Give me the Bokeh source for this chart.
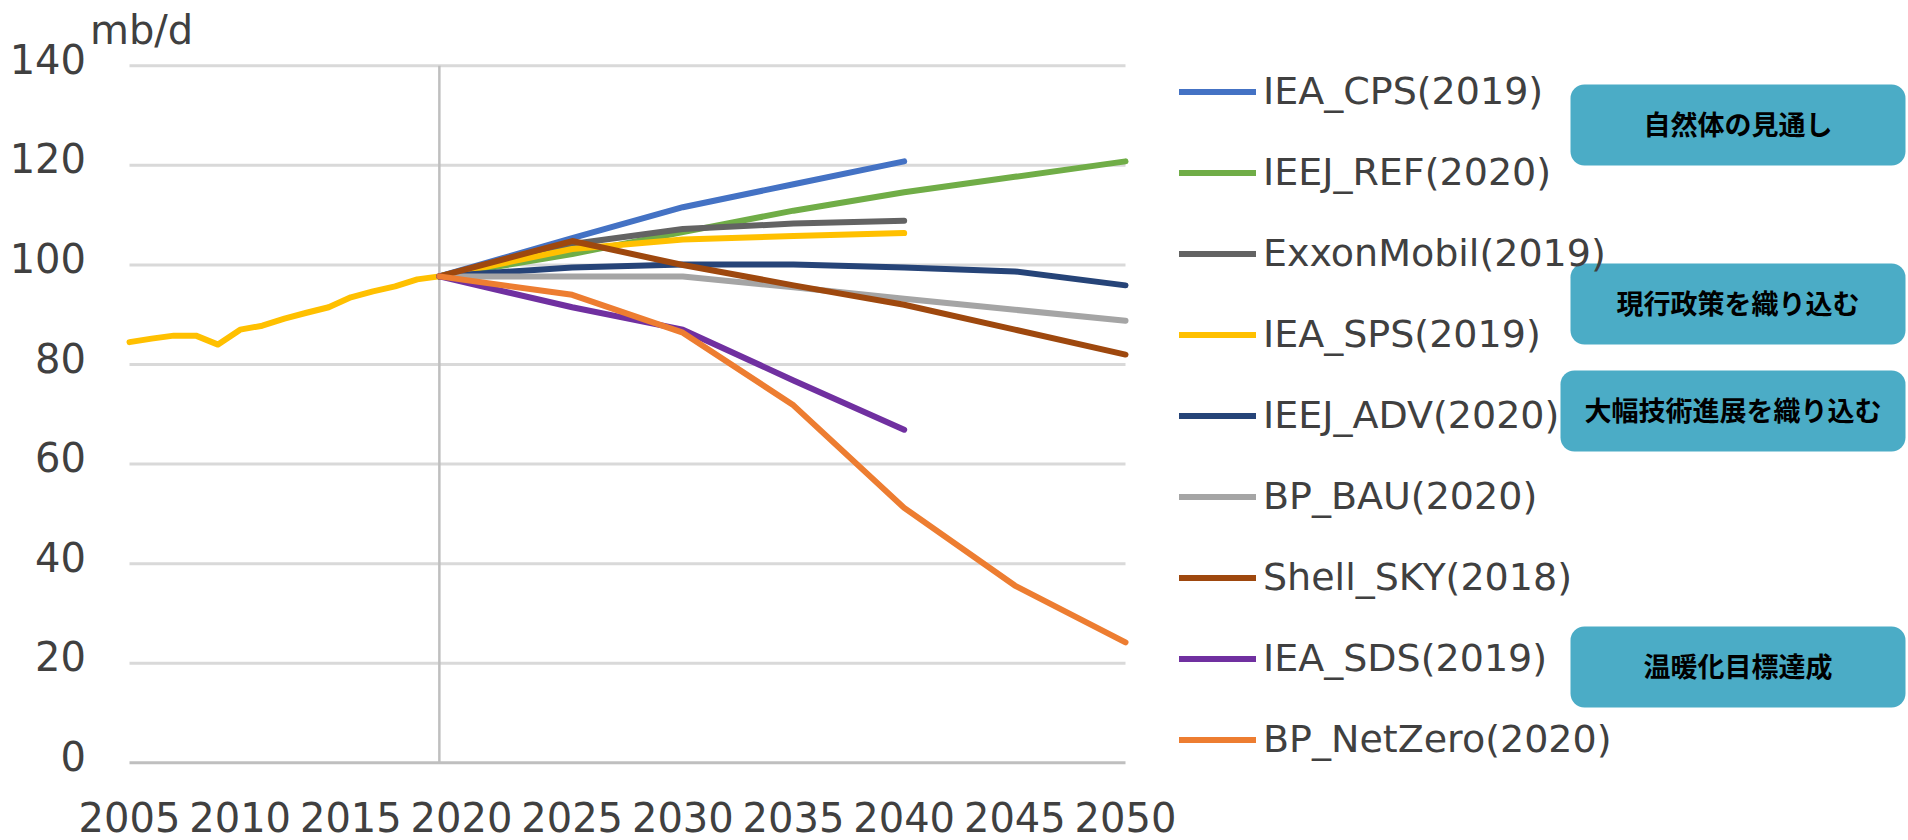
from bokeh.plotting import figure
from bokeh.models import Range1d, Legend, LegendItem, BoxAnnotation, Label
from bokeh.core.properties import value
from bokeh.embed import file_html
from bokeh.resources import INLINE

# ---------------- data ----------------
hist_years = list(range(2005, 2020))
hist_values = [84.5, 85.2, 85.8, 85.8, 84.0, 87.0, 87.8, 89.2, 90.4, 91.5, 93.5, 94.7, 95.7, 97.1, 97.7]

base_year = 2019
years_2040 = [2019, 2025, 2030, 2035, 2040]
years_2050 = [2019, 2025, 2030, 2035, 2040, 2045, 2050]

iea_cps = [97.7, 105.4, 111.6, 116.2, 120.8]
ieej_ref = [97.7, 102.2, 106.6, 110.9, 114.6, 117.7, 120.8]
exxon = [97.7, 104.2, 107.2, 108.3, 108.9]
iea_sps = [97.7, 103.2, 105.1, 105.8, 106.4]
ieej_adv = [97.7, 99.5, 100.1, 100.1, 99.5, 98.7, 95.9]
bp_bau = [97.7, 97.7, 97.7, 95.5, 93.2, 91.0, 88.8]
shell_sky = [97.7, 104.8, 100.0, 95.9, 92.0, 87.0, 82.0]
iea_sds = [97.7, 91.5, 87.0, 76.8, 66.9]
bp_netzero = [97.7, 94.0, 86.4, 71.8, 51.2, 35.6, 24.2]

series_names = ["IEA_CPS(2019)", "IEEJ_REF(2020)", "ExxonMobil(2019)", "IEA_SPS(2019)",
                "IEEJ_ADV(2020)", "BP_BAU(2020)", "Shell_SKY(2018)", "IEA_SDS(2019)",
                "BP_NetZero(2020)"]
series_years = [years_2040, years_2050, years_2040, years_2040, years_2050, years_2050,
                years_2050, years_2040, years_2050]
series_values = [iea_cps, ieej_ref, exxon, iea_sps, ieej_adv, bp_bau, shell_sky, iea_sds, bp_netzero]
series_colors = ["#4472C4", "#70AD47", "#636363", "#FFC000", "#264478", "#A5A5A5",
                 "#9E480E", "#7030A0", "#ED7D31"]

x_ticks = [2005, 2010, 2015, 2020, 2025, 2030, 2035, 2040, 2045, 2050]
y_ticks = [0, 20, 40, 60, 80, 100, 120, 140]
unit_label = "mb/d"

box_texts = ["自然体の見通し", "現行政策を織り込む", "大幅技術進展を織り込む", "温暖化目標達成"]

# ---------------- pixel geometry of the plot area ----------------
W, H = 1908, 840
X0_PX, X1_PX = 129.0, 1125.0     # 2005 .. 2050
Y0_PX, Y1_PX = 762.3, 65.3       # 0 .. 140
PX_PER_YEAR = (X1_PX - X0_PX) / (x_ticks[-1] - x_ticks[0])
PX_PER_UNIT = (Y0_PX - Y1_PX) / (y_ticks[-1] - y_ticks[0])
TEXT_SHIFT = 14   # px: anchor sits this much above the glyph baseline


def px_x(px):
    return x_ticks[0] + (px - X0_PX) / PX_PER_YEAR


def px_y(py):
    return y_ticks[0] + (Y0_PX - py) / PX_PER_UNIT


p = figure(width=W, height=H, output_backend="svg", toolbar_location=None,
           x_range=Range1d(px_x(0), px_x(W)), y_range=Range1d(px_y(H), px_y(0)),
           x_axis_location=None, y_axis_location=None,
           min_border=0, min_border_left=0, min_border_right=0,
           min_border_top=0, min_border_bottom=0)
p.outline_line_color = None
p.background_fill_color = "white"
p.border_fill_color = "white"
p.xgrid.visible = False
p.ygrid.visible = False

TXT = "#404040"
FONT = "DejaVu Sans"

# gridlines (only across 2005-2050)
grid_y = [v for v in y_ticks if v != 0]
p.segment(x0=[x_ticks[0]] * len(grid_y), x1=[x_ticks[-1]] * len(grid_y), y0=grid_y, y1=grid_y,
          line_color="#D9D9D9", line_width=3)
# category axis line at 0
p.segment(x0=[x_ticks[0]], x1=[x_ticks[-1]], y0=[y_ticks[0]], y1=[y_ticks[0]],
          line_color="#BFBFBF", line_width=3)
# vertical line at base year
p.segment(x0=[base_year], x1=[base_year], y0=[y_ticks[0]], y1=[y_ticks[-1]],
          line_color="#BFBFBF", line_width=2.5)

# tick labels
p.text(x=[px_x(85.5)] * len(y_ticks),
       y=[px_y(Y0_PX - v * PX_PER_UNIT + 7 - TEXT_SHIFT) for v in y_ticks],
       text=[str(v) for v in y_ticks],
       text_align="right", text_baseline="alphabetic",
       text_font=value(FONT), text_font_size=value("40px"), text_color=TXT)
p.text(x=x_ticks, y=[px_y(830 - TEXT_SHIFT)] * len(x_ticks), text=[str(v) for v in x_ticks],
       text_align="center", text_baseline="alphabetic",
       text_font=value(FONT), text_font_size=value("40px"), text_color=TXT)
# unit label
p.text(x=[px_x(89.5)], y=[px_y(43 - TEXT_SHIFT)], text=[unit_label], text_align="left",
       text_baseline="alphabetic", text_font=value(FONT), text_font_size=value("40px"),
       text_color=TXT)

# history
p.line(hist_years, hist_values, line_color="#FFC000", line_width=6,
       line_cap="round", line_join="round")

items = []
for name, xs, ys, col in zip(series_names, series_years, series_values, series_colors):
    r = p.line(xs, ys, line_color=col, line_width=6, line_cap="round", line_join="round")
    items.append(LegendItem(label=name, renderers=[r]))

legend = Legend(items=items, location=(1179, 79))
legend.label_text_font = FONT
legend.label_text_font_size = "38px"
legend.label_text_color = TXT
legend.glyph_width = 77
legend.glyph_height = 43
legend.label_height = 43
legend.spacing = 37
legend.padding = 0
legend.margin = 0
legend.label_standoff = 7
legend.border_line_color = None
legend.background_fill_alpha = 0
p.add_layout(legend)

# category boxes
box_geo = [(1570, 1905, 84, 165), (1570, 1905, 263, 344), (1560, 1905, 370, 451),
           (1570, 1905, 626, 707)]
for (l, r_, t, b), txt in zip(box_geo, box_texts):
    p.add_layout(BoxAnnotation(left=px_x(l), right=px_x(r_), top=px_y(t), bottom=px_y(b),
                               fill_color="#4BACC6", fill_alpha=1.0, line_color=None,
                               border_radius=14))
    p.add_layout(Label(x=px_x((l + r_) / 2), y=px_y((t + b) / 2 - 2), text=txt,
                       text_font="Noto Sans CJK JP", text_font_style="bold",
                       text_font_size="27px", text_color="#000000",
                       text_align="center", text_baseline="middle"))

open("out.html", "w").write(file_html(p, INLINE))
